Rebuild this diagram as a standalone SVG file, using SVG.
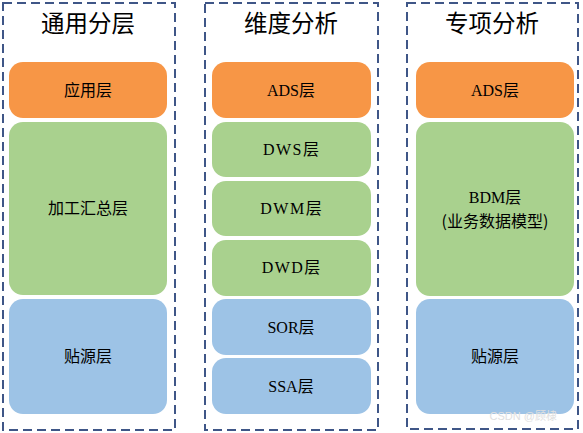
<svg xmlns="http://www.w3.org/2000/svg" width="583" height="433" viewBox="0 0 583 433">
<style>
.frame{fill:none;stroke:#3F5687;stroke-width:2;stroke-dasharray:9,5}
.o{fill:#F79646}
.g{fill:#A9D18E}
.b{fill:#9DC3E6}
.title{font-family:"Noto Sans CJK SC","Noto Sans",sans-serif;font-size:23.5px;fill:#000;text-anchor:middle}
.zh{font-family:"Noto Sans CJK SC","Noto Sans",sans-serif;font-size:16px;fill:#000;text-anchor:middle}
.en{font-family:"Noto Sans CJK SC",sans-serif;font-size:16px;fill:#000;text-anchor:middle}
.lat{font-family:"Liberation Serif","DejaVu Serif",serif;font-size:16px}
.wm{font-family:"Liberation Sans","Noto Sans CJK SC",sans-serif;font-size:11px;fill:#e0e0e0;text-anchor:end}
</style>
<rect width="583" height="433" fill="#fff"/>
<g id="col1">
<rect class="frame" x="3" y="3" width="172" height="427"/>
<text class="title" x="88" y="32">通用分层</text>
<g id="c1-app"><rect class="o" x="9" y="62" width="158" height="56" rx="14"/><text class="zh" x="88" y="96">应用层</text></g>
<g id="c1-agg"><rect class="g" x="9" y="122" width="158" height="173" rx="14"/><text class="zh" x="88" y="214">加工汇总层</text></g>
<g id="c1-src"><rect class="b" x="9" y="299" width="158" height="115" rx="14"/><text class="zh" x="88" y="362">贴源层</text></g>
</g>
<g id="col2">
<rect class="frame" x="205" y="3" width="173" height="427"/>
<text class="title" x="291" y="32">维度分析</text>
<g id="c2-ads"><rect class="o" x="212" y="62" width="159" height="56" rx="14"/><text class="en" x="291" y="96"><tspan class="lat">ADS</tspan>层</text></g>
<g id="c2-dws"><rect class="g" x="212" y="122" width="159" height="55" rx="14"/><text class="en" x="291" y="155"><tspan class="lat" letter-spacing="1.5">DWS</tspan>层</text></g>
<g id="c2-dwm"><rect class="g" x="212" y="181" width="159" height="55" rx="14"/><text class="en" x="291" y="214"><tspan class="lat" letter-spacing="1.5">DWM</tspan>层</text></g>
<g id="c2-dwd"><rect class="g" x="212" y="240" width="159" height="56" rx="14"/><text class="en" x="291" y="273"><tspan class="lat" letter-spacing="1.5">DWD</tspan>层</text></g>
<g id="c2-sor"><rect class="b" x="212" y="299" width="159" height="56" rx="14"/><text class="en" x="291" y="333"><tspan class="lat">SOR</tspan>层</text></g>
<g id="c2-ssa"><rect class="b" x="212" y="358" width="159" height="56" rx="14"/><text class="en" x="291" y="392"><tspan class="lat">SSA</tspan>层</text></g>
</g>
<g id="col3">
<rect class="frame" x="407" y="3" width="171" height="426"/>
<text class="title" x="492" y="32">专项分析</text>
<g id="c3-ads"><rect class="o" x="416" y="62" width="158" height="56" rx="14"/><text class="en" x="495" y="96"><tspan class="lat">ADS</tspan>层</text></g>
<g id="c3-bdm"><rect class="g" x="416" y="122" width="158" height="174" rx="14"/><text class="en" x="495" y="203"><tspan class="lat">BDM</tspan>层</text><text class="zh" x="495" y="227" font-size="15">(业务数据模型)</text></g>
<g id="c3-src"><rect class="b" x="416" y="299" width="158" height="115" rx="14"/><text class="zh" x="495" y="362">贴源层</text></g>
</g>
<text class="wm" x="557" y="420">CSDN @顾棣</text>
</svg>
